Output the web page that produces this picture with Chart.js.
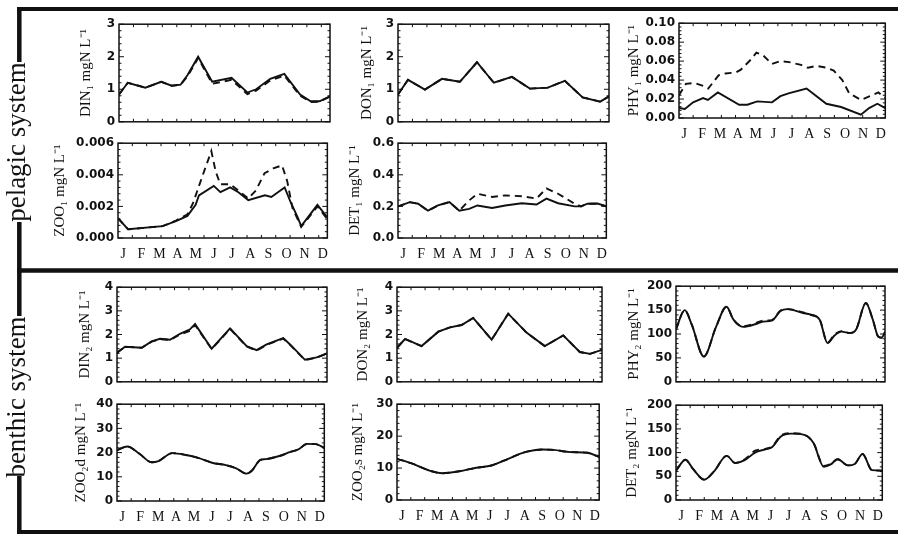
<!DOCTYPE html>
<html><head><meta charset="utf-8">
<script src="https://cdn.jsdelivr.net/npm/chart.js@4"></script>
<style>
html,body{margin:0;padding:0;background:#fff;}
#wrap{position:relative;width:898px;height:534px;overflow:hidden;background:#fff;}
canvas{position:absolute;}
</style></head><body>
<div id="wrap"><canvas id="frame" width="898" height="534" style="left:0;top:0;width:898px;height:534px"></canvas></div>
<script>
// ---------- data ----------
const months = ['J','F','M','A','M','J','J','A','S','O','N','D'];
const monthPos = [0.3,1.34,2.38,3.42,4.46,5.5,6.54,7.58,8.62,9.66,10.7,11.74];

const din1X = [0,0.5,1.5,2.4,3.0,3.5,3.9,4.5,5.3,6.4,7.3,7.8,8.6,9.4,10.3,10.9,11.4,12];
const din1Solid = [0.84,1.2,1.05,1.23,1.11,1.14,1.44,2.0,1.23,1.35,0.9,1.0,1.32,1.47,0.84,0.63,0.63,0.78];
const din1Dashed = [0.84,1.2,1.05,1.23,1.11,1.14,1.40,1.96,1.17,1.29,0.85,0.96,1.27,1.42,0.80,0.61,0.62,0.78];
const din1Ticks = [0,1,2,3];

const don1X = [0,0.57,1.53,2.5,3.52,4.49,5.45,6.48,7.5,8.52,9.49,10.5,11.5,12];
const don1Solid = [0.84,1.29,0.99,1.32,1.23,1.83,1.2,1.38,1.02,1.05,1.26,0.75,0.62,0.78];
const don1Dashed = [0.84,1.29,0.99,1.32,1.23,1.83,1.2,1.38,1.02,1.05,1.26,0.75,0.62,0.78];
const don1Ticks = [0,1,2,3];

const phy1SolidX = [0,0.34,0.82,1.4,1.68,2.26,3.5,3.98,4.55,5.41,5.9,6.37,7.42,8.57,9.43,10.58,11.06,11.54,12];
const phy1Solid = [0.0105,0.0095,0.0165,0.021,0.019,0.027,0.014,0.014,0.0175,0.0165,0.023,0.026,0.031,0.015,0.0116,0.0035,0.0105,0.015,0.0105];
const phy1DashedX = [0,0.4,0.9,1.4,1.7,2.3,2.7,3.3,3.6,4.2,4.5,4.9,5.4,5.9,6.4,7.1,7.5,8.0,8.6,9.0,9.5,9.9,10.6,11.1,11.6,12];
const phy1Dashed = [0.024,0.036,0.037,0.034,0.031,0.045,0.047,0.048,0.051,0.062,0.069,0.066,0.057,0.060,0.059,0.056,0.053,0.055,0.053,0.050,0.040,0.026,0.019,0.023,0.027,0.021];
const phy1Ticks = [0,0.02,0.04,0.06,0.08,0.10];

const zoo1SolidX = [0,0.58,2.56,3.32,3.98,4.45,4.64,5.49,5.87,6.43,6.9,7.47,8.42,8.79,9.55,9.92,10.3,10.5,11.43,12];
const zoo1Solid = [0.00125,0.00055,0.00075,0.00107,0.0014,0.0021,0.0027,0.0033,0.0029,0.0032,0.0029,0.0024,0.0027,0.0026,0.0032,0.0022,0.0013,0.00075,0.0021,0.0013];
const zoo1DashedX = [0,0.58,2.56,3.32,3.98,4.3,4.8,5.35,5.6,5.87,6.43,6.9,7.47,7.9,8.4,8.9,9.4,9.7,10.0,10.5,11.43,12];
const zoo1Dashed = [0.00125,0.00055,0.00075,0.0011,0.0015,0.0022,0.0038,0.0055,0.0042,0.0034,0.0034,0.003,0.0025,0.003,0.0041,0.0044,0.0046,0.0036,0.0019,0.0007,0.002,0.0012];
const zoo1Ticks = [0,0.002,0.004,0.006];

const det1X = [0,0.68,1.16,1.73,2.3,2.96,3.53,4.1,4.57,5.42,6.18,7.13,7.98,8.55,9.22,10.17,10.54,10.92,11.5,12];
const det1Solid = [0.2,0.227,0.217,0.173,0.206,0.227,0.173,0.184,0.206,0.19,0.206,0.22,0.212,0.249,0.22,0.2,0.2,0.217,0.218,0.2];
const det1Dashed = [0.2,0.227,0.217,0.173,0.206,0.227,0.173,0.238,0.28,0.26,0.27,0.264,0.25,0.314,0.28,0.217,0.2,0.217,0.218,0.2];
const det1Ticks = [0,0.2,0.4,0.6];

const din2X = [0,0.46,1.41,1.98,2.46,3.03,3.6,4.17,4.46,5.41,6.46,7.41,7.98,8.55,9.5,9.89,10.74,11.41,12];
const din2Solid = [1.23,1.48,1.44,1.71,1.82,1.78,2.03,2.22,2.44,1.4,2.26,1.51,1.34,1.58,1.85,1.58,0.93,1.03,1.2];
const din2Dashed = [1.23,1.48,1.44,1.7,1.8,1.77,2.0,2.16,2.4,1.38,2.24,1.49,1.32,1.56,1.83,1.56,0.92,1.02,1.2];
const din2Ticks = [0,1,2,3,4];

const don2X = [0,0.47,1.44,2.42,3.1,3.78,4.46,5.54,6.51,7.58,8.65,9.73,10.7,11.3,12];
const don2Solid = [1.44,1.81,1.51,2.12,2.3,2.4,2.7,1.78,2.88,2.08,1.51,1.96,1.26,1.18,1.35];
const don2Dashed = [1.44,1.81,1.51,2.12,2.3,2.4,2.7,1.78,2.88,2.08,1.51,1.96,1.26,1.18,1.35];
const don2Ticks = [0,1,2,3,4];

const phy2X = [0,0.5,0.9,1.6,2.3,2.9,3.3,3.85,4.6,5.0,5.5,6.0,6.4,7.3,7.7,8.25,8.7,9.1,9.5,10.0,10.35,10.9,11.3,11.6,11.8,12];
const phy2Solid = [110,150,120,53,115,157,130,115,121,126,128,148,152,144,141,130,81,97,105,102,110,165,130,95,92,104];
const phy2Dashed = [110,150,120,53,115,157,130,116,123,128,129,149,152,145,140,130,82,99,106,102,110,165,130,95,92,104];
const phy2Ticks = [0,50,100,150,200];

const zoo2dX = [0,0.6,1.3,2.0,2.4,3.2,4.0,4.7,5.5,6.3,6.9,7.5,7.8,8.3,8.6,9.5,10.0,10.5,11.0,11.5,12];
const zoo2dSolid = [21,22.5,19.5,16,16.5,19.8,19,17.8,15.8,14.8,13.5,11.3,12.5,17,17.3,18.8,20.2,21.3,23.6,23.5,22];
const zoo2dDashed = [21,22.5,19.5,16,16.5,19.8,19,17.8,15.8,14.8,13.5,11.3,12.5,17,17.3,18.8,20.2,21.3,23.6,23.5,22];
const zoo2dTicks = [0,10,20,30,40];

const zoo2sX = [0,0.95,1.93,2.7,3.7,4.7,5.6,6.6,7.6,8.6,9.3,10.3,11.3,12];
const zoo2sSolid = [12.9,11.3,9.2,8.4,9.0,10.1,10.8,12.9,15,15.8,15.7,15,14.8,13.5];
const zoo2sDashed = [12.9,11.3,9.2,8.4,9.0,10.1,10.8,12.9,15,15.8,15.7,15,14.8,13.5];
const zoo2sTicks = [0,10,20,30];

const det2X = [0,0.55,1.0,1.65,2.2,2.95,3.45,4.0,4.6,5.2,5.6,6.1,6.7,7.5,8.0,8.6,9.0,9.4,10.0,10.4,10.85,11.4,12];
const det2Solid = [62,85,65,43,60,93,78,84,100,107,112,134,140,137,120,70,75,86,73,76,97,63,62];
const det2Dashed = [62,85,65,43,60,93,78,86,104,108,113,136,141,137,120,72,76,86,73,76,97,63,62];
const det2Ticks = [0,50,100,150,200];

// ---------- layout ----------
const SERIF = "'Liberation Serif','Times New Roman',serif";
const INK = '#111';
const TITLE_SIZE = 15;

const panels = [
  {title:'DIN₁ mgN L⁻¹', sx:din1X, s:din1Solid, dx:din1X, d:din1Dashed, ticks:din1Ticks, dec:0, box:[119,23,330,123], tx:86, months:false, smooth:false},
  {title:'DON₁ mgN L⁻¹', sx:don1X, s:don1Solid, dx:don1X, d:don1Dashed, ticks:don1Ticks, dec:0, box:[398,23,609,123], tx:367, months:false, smooth:false},
  {title:'PHY₁ mgN L⁻¹', sx:phy1SolidX, s:phy1Solid, dx:phy1DashedX, d:phy1Dashed, ticks:phy1Ticks, dec:2, box:[679,22,888,118], tx:634, months:true, smooth:false},
  {title:'ZOO₁ mgN L⁻¹', sx:zoo1SolidX, s:zoo1Solid, dx:zoo1DashedX, d:zoo1Dashed, ticks:zoo1Ticks, dec:3, box:[118,142,330,238], tx:60, months:true, smooth:false},
  {title:'DET₁ mgN L⁻¹', sx:det1X, s:det1Solid, dx:det1X, d:det1Dashed, ticks:det1Ticks, dec:1, box:[398,142,609,238], tx:355, months:true, smooth:false},
  {title:'DIN₂ mgN L⁻¹', sx:din2X, s:din2Solid, dx:din2X, d:din2Dashed, ticks:din2Ticks, dec:0, box:[117,286,327,383], tx:85, months:false, smooth:false},
  {title:'DON₂ mgN L⁻¹', sx:don2X, s:don2Solid, dx:don2X, d:don2Dashed, ticks:don2Ticks, dec:0, box:[397,286,602,383], tx:363, months:false, smooth:false},
  {title:'PHY₂ mgN L⁻¹', sx:phy2X, s:phy2Solid, dx:phy2X, d:phy2Dashed, ticks:phy2Ticks, dec:0, box:[676,285,885,383], tx:634, months:false, smooth:true},
  {title:'ZOO₂d mgN L⁻¹', sx:zoo2dX, s:zoo2dSolid, dx:zoo2dX, d:zoo2dDashed, ticks:zoo2dTicks, dec:0, box:[117,403,327,501], tx:81, months:true, smooth:true},
  {title:'ZOO₂s mgN L⁻¹', sx:zoo2sX, s:zoo2sSolid, dx:zoo2sX, d:zoo2sDashed, ticks:zoo2sTicks, dec:0, box:[397,403,602,500], tx:358, months:true, smooth:true},
  {title:'DET₂ mgN L⁻¹', sx:det2X, s:det2Solid, dx:det2X, d:det2Dashed, ticks:det2Ticks, dec:0, box:[676,404,885,500], tx:632, months:true, smooth:true}
];

// ---------- frame / labels ----------
(function(){
  const c = document.getElementById('frame').getContext('2d');
  c.fillStyle='#fff'; c.fillRect(0,0,898,534);
  c.strokeStyle=INK; c.lineCap='butt';
  function ln(x1,y1,x2,y2,w){c.lineWidth=w;c.beginPath();c.moveTo(x1,y1);c.lineTo(x2,y2);c.stroke();}
  ln(17,9,898,9,4);
  ln(17,270.5,898,270.5,4.5);
  ln(17,532,898,532,4);
  ln(19.3,7,19.3,62,4.5);
  ln(19.3,222,19.3,316,4.5);
  ln(19.3,476,19.3,534,4.5);
  c.fillStyle=INK;
  c.font = "27px 'Liberation Serif'";
  c.textAlign='center'; c.textBaseline='alphabetic';
  function vt(t,x,y){c.save();c.translate(x,y);c.rotate(-Math.PI/2);c.fillText(t,0,0);c.restore();}
  vt('pelagic system',25,142);
  vt('benthic system',25,397);
})();

const framePlugin = {
  id:'idlFrame',
  afterDraw(chart){
    const {ctx, chartArea:a, scales:{x,y}} = chart;
    ctx.save();
    ctx.strokeStyle=INK;
    ctx.lineWidth=1.5;
    ctx.strokeRect(a.left,a.top,a.right-a.left,a.bottom-a.top);
    ctx.lineWidth=1;
    const L=(x1,y1,x2,y2)=>{ctx.beginPath();ctx.moveTo(x1,y1);ctx.lineTo(x2,y2);ctx.stroke();};
    const tv = y.ticks.map(t=>t.value);
    for(let i=0;i<tv.length;i++){
      const py=y.getPixelForValue(tv[i]);
      L(a.left,py,a.left+5,py); L(a.right,py,a.right-5,py);
      if(i<tv.length-1){
        for(let k=1;k<5;k++){
          const v=tv[i]+(tv[i+1]-tv[i])*k/5, q=y.getPixelForValue(v);
          L(a.left,q,a.left+2.5,q); L(a.right,q,a.right-2.5,q);
        }
      }
    }
    for(let v=25/365*12; v<12; v+=25/365*12){
      const px=x.getPixelForValue(v);
      L(px,a.top,px,a.top+3); L(px,a.bottom,px,a.bottom-3);
    }
    ctx.restore();
  }
};

const wrap = document.getElementById('wrap');
const toXY = (xs,ys)=>xs.map((v,i)=>({x:v,y:ys[i]}));

panels.forEach(p=>{
  const [pl,pt,pr,pb]=p.box;
  const cl = Math.round(p.tx-TITLE_SIZE*0.6);
  const W = pl-cl;
  const padTop=10, padRight=6;
  const H = p.months?26:10;
  const ct = pt-padTop;
  const cw = pr+padRight-cl;
  const ch = pb+H-ct;
  const cv = document.createElement('canvas');
  cv.width=cw; cv.height=ch;
  cv.style.left=cl+'px'; cv.style.top=ct+'px';
  cv.style.width=cw+'px'; cv.style.height=ch+'px';
  wrap.appendChild(cv);
  const lineOpts = p.smooth ? {cubicInterpolationMode:'monotone'} : {tension:0};
  new Chart(cv,{
    type:'line',
    data:{datasets:[
      Object.assign({data:toXY(p.dx,p.d), borderColor:INK, borderWidth:1.9, borderDash:[7,5], pointRadius:0, fill:false}, lineOpts),
      Object.assign({data:toXY(p.sx,p.s), borderColor:INK, borderWidth:1.9, pointRadius:0, fill:false}, lineOpts)
    ]},
    options:{
      responsive:false, animation:false, devicePixelRatio:1, events:[],
      layout:{padding:{top:padTop,right:padRight,left:0,bottom:0}},
      plugins:{legend:{display:false},tooltip:{enabled:false}},
      scales:{
        x:{type:'linear', min:0, max:12,
          grid:{display:false, drawTicks:false, tickLength:0}, border:{display:false},
          afterBuildTicks:s=>{s.ticks=monthPos.map(v=>({value:v}));},
          afterFit:s=>{s.height=H;},
          ticks:{display:p.months, autoSkip:false, maxRotation:0, padding:8, color:INK,
            font:{family:SERIF,size:14}, callback:(v,i)=>months[i]}
        },
        y:{type:'linear', min:p.ticks[0], max:p.ticks[p.ticks.length-1],
          grid:{display:false, drawTicks:false, tickLength:0}, border:{display:false},
          afterBuildTicks:s=>{s.ticks=p.ticks.map(v=>({value:v}));},
          afterFit:s=>{s.width=W;},
          ticks:{padding:4, color:INK, font:{family:"'DejaVu Sans'",size:12,weight:'bold'},
            callback:v=>Number(v).toFixed(p.dec)},
          title:{display:true, text:p.title, padding:0, color:INK,
            font:{family:SERIF,size:TITLE_SIZE,lineHeight:1.2}}
        }
      }
    },
    plugins:[framePlugin]
  });
});
</script>
</body></html>
